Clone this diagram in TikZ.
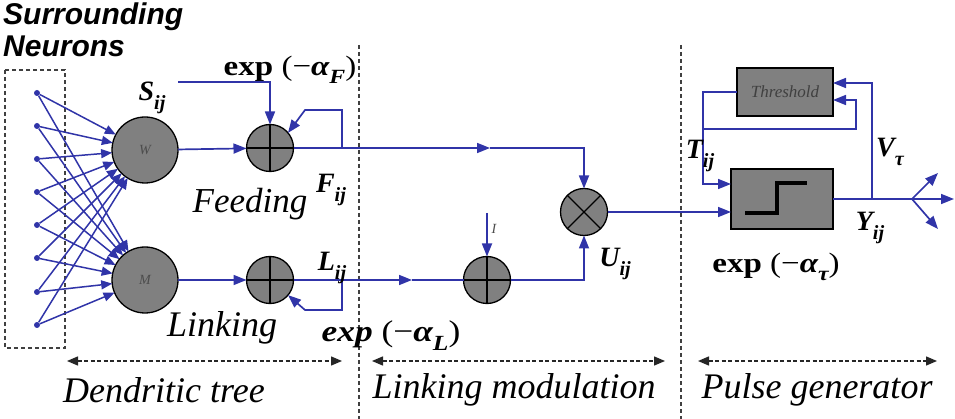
\documentclass[tikz,border=0pt]{standalone}
\usepackage{fontspec}
\setmainfont{Liberation Serif}
\newfontfamily\arialf{Liberation Sans}
\usetikzlibrary{arrows.meta,calc}
\definecolor{bl}{RGB}{48,52,168}
\definecolor{gf}{RGB}{128,128,128}
\newcommand\lsub[1]{\raisebox{-0.3em}{\scalebox{0.72}{#1}}}
\newcommand\bi[1]{{\bfseries\itshape #1}}
\newcommand\wide[1]{\scalebox{1.18}[1]{#1}}
\begin{document}
\begin{tikzpicture}[x=1pt,y=-1pt,
  blk/.style={draw=black, line width=1.3pt, fill=gf},
  big/.style={blk, circle, inner sep=0pt, outer sep=0pt, minimum size=66pt},
  sumc/.style={blk, circle, inner sep=0pt, outer sep=0pt, minimum size=47pt},
  boxn/.style={blk, rectangle, inner sep=0pt, outer sep=0pt},
  dotn/.style={circle, fill=bl, inner sep=0pt, minimum size=6pt},
  wire/.style={draw=bl, line width=1.7pt},
  arr/.style={wire, -{Triangle[length=13pt,width=10pt]}},
  fan/.style={draw=bl, line width=1.5pt, -{Triangle[length=11pt,width=9pt]}},
  vdash/.style={draw=black!75, line width=1.4pt, dash pattern=on 4pt off 3pt},
  spanarr/.style={draw=black!85, line width=1.4pt, dash pattern=on 4pt off 2.5pt, {Triangle[length=11pt,width=9pt]}-{Triangle[length=11pt,width=9pt]}},
  lab/.style={inner sep=0pt, font=\fontsize{28}{30}\selectfont},
  capt/.style={inner sep=0pt, font=\fontsize{36}{40}\selectfont\itshape},
  inl/.style={inner sep=0pt, text=black!70, font=\fontsize{14}{16}\selectfont\itshape},
]
\useasboundingbox (0,0) rectangle (955,419);

% title
\node[anchor=base west, inner sep=0pt, font=\fontsize{30}{32}\selectfont\arialf\bfseries\itshape] (t1) at (3,25) {Surrounding};
\node[anchor=base west, inner sep=0pt, font=\fontsize{30}{32}\selectfont\arialf\bfseries\itshape] (t2) at (3,57) {Neurons};

% dashed separators
\coordinate (v1a) at (359,45); \coordinate (v1b) at (359,419);
\coordinate (v2a) at (681,45); \coordinate (v2b) at (681,419);
\draw[vdash] (v1a) -- (v1b);
\draw[vdash] (v2a) -- (v2b);
\draw[vdash] (5,70) rectangle (65,348);

% neurons
\foreach \k/\yy in {0/93,1/126,2/159,3/192,4/225,5/258,6/292,7/325}
  {\node[dotn] (d\k) at (37,\yy) {};}
\node[big] (W) at (145,150) {};
\node[inl] at (W) {W};
\node[big] (M) at (145,280) {};
\node[inl] at (M) {M};
\foreach \k in {0,...,7}{
  \draw[fan] (d\k) -- (W);
  \draw[fan] (d\k) -- (M);
}

% summing nodes
\node[sumc] (sf) at (270,148) {};
\draw[line width=1.3pt] (sf.north) -- (sf.south) (sf.west) -- (sf.east);
\node[sumc] (sl) at (270,280) {};
\draw[line width=1.3pt] (sl.north) -- (sl.south) (sl.west) -- (sl.east);
\node[sumc] (si) at (487,280) {};
\draw[line width=1.3pt] (si.north) -- (si.south) (si.west) -- (si.east);
\node[sumc] (mul) at (584,212) {};
\draw[line width=1.3pt] (mul.north east) -- (mul.south west) (mul.north west) -- (mul.south east);

\draw[arr] (W) -- (sf);
\draw[arr] (M) -- (sl);

% S_ij input
\coordinate (s0) at (178,82);
\draw[arr] (s0) -| (sf.north);
% feeding feedback
\coordinate (ff1) at (342,148); \coordinate (ff2) at (342,110); \coordinate (ff3) at (305,110);
\draw[arr] (ff1) -- (ff2) -- (ff3) -- (sf.40);
% feeding output
\coordinate (fm) at (490,148);
\draw[arr] (sf.east) -- (fm);
\draw[arr] (fm) -| (mul.north);

% linking
\coordinate (lm) at (412,280);
\draw[arr] (sl.east) -- (lm);
\draw[wire] (lm) -- (si.west);
\coordinate (lf1) at (342,280); \coordinate (lf2) at (342,310); \coordinate (lf3) at (305,310);
\draw[arr] (lf1) -- (lf2) -- (lf3) -- (sl.-40);
\coordinate (i0) at (487,213);
\draw[arr] (i0) -- (si.north);
\node[inl] (ilab) at (494,229) {I};
\draw[arr] (si.east) -| (mul.south);

% pulse generator
\node[boxn, minimum width=102pt, minimum height=60pt] (step) at (782,199) {};
\draw[line width=3.2pt, black] (745,213) -- (777,213) -- (777,183) -- (807,183);
\node[boxn, minimum width=96pt, minimum height=48pt] (thr) at (785,92) {};
\node[inner sep=0pt, text=black!75, font=\fontsize{17}{19}\selectfont\itshape] at (thr) {Threshold};

\draw[arr] (mul.east) -- (mul.east -| step.west);
\coordinate (ta) at (703,92); \coordinate (tb) at (703,184);
\draw[arr] (thr.west) -- (ta) -- (tb) -- (tb -| step.west);
\coordinate (tc) at (703,129); \coordinate (td) at (856,129); \coordinate (te) at (856,100);
\draw[arr] (tc) -- (td) -- (te) -- (te -| thr.east);
\coordinate (yf) at (912,199);
\draw[wire] (step.east |- yf) -- (yf);
\coordinate (y1) at (938,173); \coordinate (y2) at (954,199); \coordinate (y3) at (938,229);
\draw[arr] (yf) -- (y1);
\draw[arr] (yf) -- (y2);
\draw[arr] (yf) -- (y3);
\coordinate (va) at (872,199); \coordinate (vb) at (872,83);
\draw[arr] (va) -- (vb) -- (vb -| thr.east);

% labels
\node[lab] (Slab) at (152,98) {\bi{S}\lsub{\bi{ij}}};
\node[lab] (aF) at (290,70) {\wide{\textbf{exp} (−\bi{α}\lsub{\bi{F}})}};
\node[lab] (Flab) at (331,190) {\bi{F}\lsub{\bi{ij}}};
\node[lab] (Llab) at (332,268) {\bi{L}\lsub{\bi{ij}}};
\node[lab, font=\fontsize{30}{32}\selectfont] (aL) at (391,336) {\wide{\bi{exp} (−\bi{α}\lsub{\bi{L}})}};
\node[lab] (Ulab) at (615,264) {\bi{U}\lsub{\bi{ij}}};
\node[lab] (Tlab) at (700,156) {\bi{T}\lsub{\bi{ij}}};
\node[lab] (Vlab) at (890,152) {\bi{V}\lsub{\bi{τ}}};
\node[lab] (Ylab) at (870,228) {\bi{Y}\lsub{\bi{ij}}};
\node[lab] (aT) at (776,267) {\wide{\textbf{exp} (−\bi{α}\lsub{\bi{τ}})}};
\node[capt, font=\fontsize{35}{38}\selectfont\itshape] (feed) at (250,204) {Feeding};
\node[capt] (link) at (222,328) {Linking};

% bottom spans
\coordinate (b1a) at (67,361); \coordinate (b1b) at (342,361);
\coordinate (b2a) at (372,361); \coordinate (b2b) at (665,361);
\coordinate (b3a) at (698,361); \coordinate (b3b) at (937,361);
\draw[spanarr] (b1a) -- (b1b);
\draw[spanarr] (b2a) -- (b2b);
\draw[spanarr] (b3a) -- (b3b);
\node[capt] (c1) at (164,390) {Dendritic tree};
\node[capt] (c2) at (514,390) {Linking modulation};
\node[capt] (c3) at (817,390) {Pulse generator};
\end{tikzpicture}
\end{document}
